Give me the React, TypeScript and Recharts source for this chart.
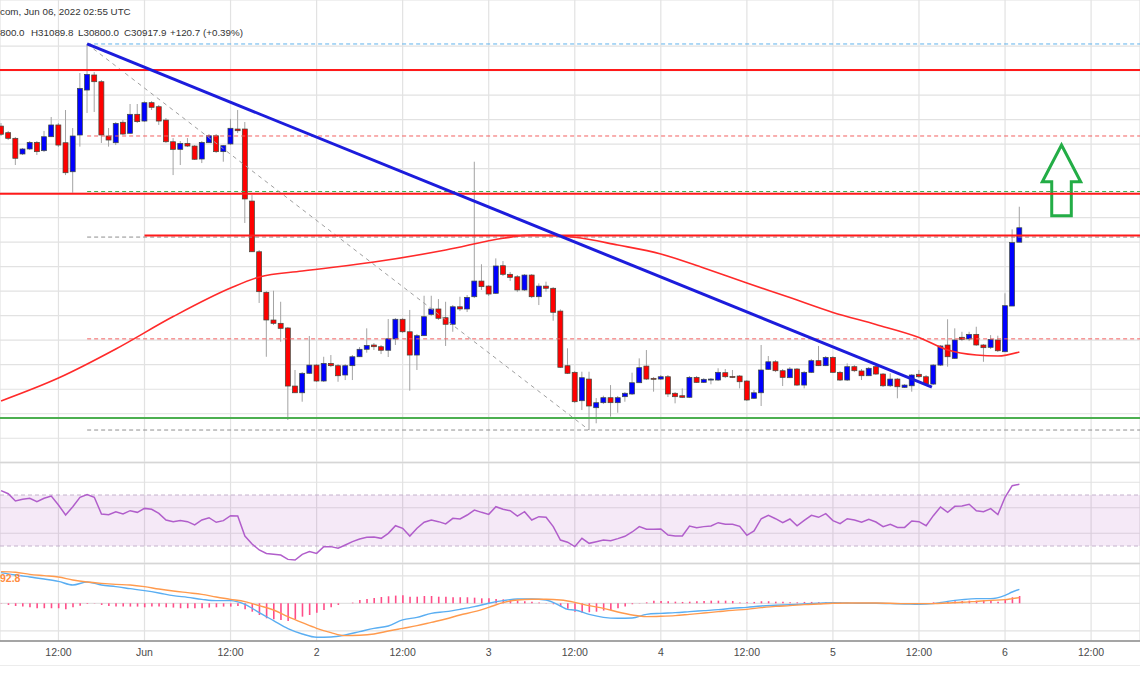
import React from "react";
import {
  ComposedChart, Bar, Line, XAxis, YAxis, CartesianGrid,
  ReferenceLine, ReferenceArea,
} from "recharts";

// hours are counted from May 31 2022 00:00 UTC, one candle per hour
const FIRST_HOUR = 4;

const OPEN = [
  31748, 31694, 31648, 31520, 31561, 31615, 31547, 31661, 31757, 31612,
  31375, 31675, 32042, 32165, 32110, 31667, 31612, 31779, 31689, 31844,
  31789, 31939, 31906, 31797, 31620, 31558, 31607, 31585, 31479, 31612,
  31669, 31539, 31602, 31724, 31724, 31136, 30722, 30391, 30165, 30138,
  30100, 29626, 29571, 29730, 29797, 29667, 29811, 29792, 29716, 29792,
  29865, 29926, 29961, 29947, 29918, 30010, 30171, 30069, 29879, 30037,
  30211, 30255, 30184, 30130, 30273, 30255, 30355, 30483, 30442, 30383,
  30608, 30538, 30518, 30410, 30532, 30355, 30442, 30424, 30238, 29792,
  29738, 29506, 29683, 29449, 29490, 29531, 29490, 29539, 29561, 29653,
  29789, 29689, 29683, 29702, 29567, 29547, 29534, 29697, 29656, 29679,
  29675, 29735, 29704, 29708, 29667, 29526, 29571, 29762, 29824, 29751,
  29694, 29765, 29634, 29738, 29833, 29792, 29860, 29738, 29675, 29784,
  29749, 29710, 29784, 29724, 29628, 29683, 29615, 29628, 29722, 29702,
  29642, 29797, 29961, 29852, 30024, 30010, 30048, 29961, 29942, 30002,
  29906, 30279, 30800.0,
];
const HIGH = [
  31773, 31708, 31659, 31569, 31626, 31626, 31708, 31822, 31773, 31879,
  31732, 32181, 32418, 32189, 32124, 31732, 31781, 31797, 31928, 31928,
  31952, 31952, 31920, 31814, 31650, 31626, 31650, 31593, 31626, 31683,
  31683, 31593, 31806, 31879, 31781, 31185, 30736, 30402, 30404, 30314,
  30108, 29757, 29740, 30034, 29806, 29865, 29879, 29806, 29806, 29879,
  29944, 30097, 29977, 29961, 30173, 30181, 30181, 30247, 30051, 30363,
  30363, 30336, 30314, 30287, 30355, 30369, 31457, 30620, 30450, 30668,
  30646, 30557, 30532, 30540, 30540, 30464, 30478, 30434, 30252, 29934,
  29749, 29743, 29743, 29528, 29547, 29634, 29545, 29577, 29735, 29852,
  29920, 29700, 29716, 29716, 29577, 29607, 29708, 29708, 29691, 29691,
  29771, 29765, 29757, 29716, 29675, 29593, 29961, 29871, 29838, 29765,
  29781, 29773, 29749, 29847, 29953, 29871, 29871, 29749, 29811, 29797,
  29765, 29781, 29797, 29732, 29730, 29691, 29642, 29724, 29757, 29716,
  29806, 29961, 30171, 30097, 30069, 30069, 30110, 29969, 30042, 30037,
  30383, 30905, 31089.8,
];
const LOW = [
  31667, 31634, 31430, 31512, 31553, 31512, 31536, 31659, 31577, 31348,
  31204, 31580, 31855, 31863, 31610, 31580, 31593, 31675, 31683, 31773,
  31781, 31879, 31757, 31610, 31348, 31430, 31577, 31471, 31446, 31610,
  31528, 31457, 31593, 31691, 30957, 30720, 30304, 29865, 30124, 29988,
  29349, 29569, 29498, 29724, 29659, 29659, 29781, 29661, 29675, 29675,
  29863, 29898, 29920, 29887, 29863, 29961, 30059, 29588, 29757, 30034,
  30198, 30165, 29953, 30069, 30238, 30230, 30344, 30410, 30361, 30377,
  30524, 30483, 30393, 30402, 30344, 30287, 30396, 30159, 29773, 29724,
  29487, 29430, 29267, 29322, 29479, 29376, 29408, 29498, 29553, 29651,
  29675, 29580, 29675, 29536, 29485, 29528, 29528, 29651, 29651, 29640,
  29667, 29691, 29691, 29607, 29504, 29520, 29463, 29757, 29740, 29626,
  29691, 29626, 29607, 29732, 29789, 29789, 29732, 29667, 29667, 29740,
  29675, 29708, 29716, 29618, 29618, 29526, 29610, 29580, 29691, 29634,
  29634, 29789, 29784, 29847, 29993, 29993, 29953, 29824, 29928, 29904,
  29904, 30279, 30800.0,
];
const CLOSE = [
  31681, 31648, 31485, 31561, 31615, 31539, 31661, 31757, 31593, 31367,
  31667, 32056, 32170, 32110, 31675, 31634, 31770, 31683, 31844, 31784,
  31939, 31901, 31789, 31620, 31558, 31607, 31585, 31477, 31615, 31669,
  31539, 31588, 31730, 31710, 31153, 30722, 30396, 30165, 30138, 30097,
  29626, 29571, 29730, 29797, 29667, 29811, 29792, 29710, 29792, 29865,
  29926, 29958, 29947, 29918, 30012, 30171, 30069, 29879, 30037, 30192,
  30255, 30179, 30130, 30273, 30255, 30350, 30483, 30437, 30377, 30606,
  30538, 30513, 30410, 30532, 30355, 30442, 30424, 30228, 29779, 29730,
  29498, 29694, 29463, 29490, 29531, 29490, 29531, 29567, 29653, 29776,
  29683, 29681, 29702, 29561, 29539, 29534, 29697, 29656, 29681, 29683,
  29738, 29702, 29700, 29661, 29512, 29571, 29757, 29824, 29751, 29697,
  29765, 29634, 29738, 29833, 29792, 29860, 29738, 29675, 29784, 29751,
  29710, 29771, 29724, 29628, 29683, 29620, 29634, 29716, 29702, 29642,
  29797, 29953, 29865, 30002, 30007, 30048, 29961, 29939, 30007, 29914,
  30282, 30797.2, 30917.9,
];

// moving average, read at a few hours
const MA_HOURS = [4, 12, 20, 28, 36, 40, 46, 56, 66, 74, 78, 84, 90, 96, 102, 108, 114, 120, 126, 132, 136, 140, 143, 146];
const MA_VALUES = [29504, 29691, 29928, 30193, 30426, 30516, 30565, 30638, 30736, 30832, 30859, 30840, 30777, 30704, 30589, 30467, 30348, 30227, 30128, 30022, 29920, 29879, 29871, 29904];

const RSI = [
  73.4, 71.0, 65.3, 66.6, 67.4, 64.8, 67.4, 69.2, 62.2, 54.3,
  60.8, 68.2, 70.3, 68.2, 55.1, 54.6, 56.9, 55.1, 57.7, 56.4,
  59.5, 58.8, 55.6, 50.4, 49.1, 49.9, 49.1, 46.5, 50.4, 52.2,
  48.6, 49.9, 53.8, 53.5, 37.8, 31.6, 26.9, 24.2, 23.5, 22.9,
  19.5, 19.0, 23.5, 25.6, 24.2, 29.5, 29.5, 28.2, 30.8, 33.4,
  35.5, 36.8, 37.1, 36.0, 39.9, 45.9, 43.9, 37.8, 43.9, 48.6,
  50.4, 49.1, 47.3, 51.7, 51.2, 54.3, 58.2, 56.4, 54.8, 60.8,
  58.8, 57.7, 53.5, 56.9, 50.4, 53.0, 52.5, 45.2, 34.7, 33.0,
  29.5, 36.0, 32.1, 33.4, 34.7, 34.2, 35.8, 37.6, 41.0, 45.2,
  43.1, 43.1, 43.3, 38.6, 37.8, 37.8, 45.7, 44.4, 45.2, 45.7,
  48.3, 47.0, 47.0, 45.4, 38.4, 41.8, 51.4, 54.1, 51.4, 48.3,
  51.2, 45.9, 50.1, 54.1, 52.5, 55.4, 49.9, 47.5, 51.4, 50.4,
  48.6, 50.9, 48.8, 45.2, 47.0, 44.6, 44.6, 49.6, 49.1, 45.9,
  53.8, 60.6, 56.4, 61.1, 61.4, 62.7, 57.7, 56.9, 59.3, 54.6,
  68.2, 77.3, 78.4,
];

const HIST = [
  -2, -12, -19, -24, -29, -36, -36, -36, -36, -44,
  -29, -17, -5, 2, -12, -19, -24, -24, -24, -24,
  -29, -24, -24, -29, -31, -36, -36, -36, -36, -31,
  -29, -24, -24, -19, -44, -61, -85, -109, -116, -121,
  -128, -116, -97, -85, -68, -48, -29, -12, 0, 5,
  24, 31, 39, 46, 51, 56, 58, 48, 48, 53,
  53, 48, 48, 44, 44, 44, 41, 36, 36, 31,
  29, 24, 19, 15, 12, 5, -2, -7, -22, -40,
  -61, -68, -65, -61, -53, -48, -36, -24, -7, 2,
  7, 19, 17, 15, 12, 10, 12, 15, 17, 19,
  19, 19, 17, 5, 7, 10, 15, 15, 12, 12,
  7, 7, 10, 10, 7, 7, 5, 5, 2, 2,
  2, 1, 0, 0, -1, -2, -1, 0, 2, 2,
  7, 10, 12, 15, 17, 19, 19, 22, 22, 12,
  29, 44, 53,
];

const MACD_HOURS = [
  4, 6, 8, 10, 12, 14, 16, 18, 20, 22, 24, 26, 28, 30, 32, 34, 36, 38, 40, 42,
  44, 46, 48, 50, 52, 54, 56, 58, 60, 62, 64, 66, 68, 70, 72, 74, 76, 78, 80, 82,
  83, 84, 86, 88, 90, 92, 94, 96, 98, 100, 102, 104, 106, 108, 110, 112, 114, 116,
  118, 120, 122, 124, 126, 128, 130, 132, 134, 136, 138, 140, 142, 144, 145, 146,
];
const MACD_LINE = [
  222.7, 205.8, 191.2, 176.7, 159.7, 133, 154.9, 133, 121, 106.4, 91.9, 74.9, 55.5, 43.4, 28.9, 19.2, 19.2, -7.5, -68, -126,
  -184, -223, -247, -245, -230, -206, -182, -165, -121, -102, -72.9, -60.8, -43.8, -24.4, 0, 19.2, 31.3, 31.3, 24, -19.6,
  -43.8, -48.7, -80.2, -102, -109.2, -106.8, -80.2, -72.9, -68, -60.8, -53.5, -46.2, -36.5, -29.3, -19.6, -14.7, -9.9, -5,
  0, 4.7, 2.3, 0, 0, -2.6, -5, -7.5, -2.6, 14.3, 26.5, 33.7, 33.7, 58, 82.2, 101.6,
];
const SIGNAL_LINE = [
  230, 225.2, 210.6, 200.9, 191.2, 169.4, 154.9, 145.2, 137.9, 133.1, 121, 104, 89.5, 77.3, 65.2, 45.8, 28.9, 11.9, -17.2, -48.7,
  -97.1, -140.7, -181.9, -213.4, -235.2, -232.8, -223.1, -201.3, -181.9, -162.5, -138.3, -114.1, -85, -60.8, -29.3, 4.7, 24, 28.9, 28.9, 24,
  16.8, 7.1, -17.2, -36.5, -63.2, -85, -97.1, -94.7, -89.8, -80.2, -70.5, -60.8, -51.1, -43.8, -31.7, -22, -17.2, -9.9,
  -5, 0, 2.3, 2.3, 2.3, 0, -2.6, -2.6, -2.6, 2.3, 7.1, 14.3, 21.6, 26.5, 33.7, 41,
];

// axis
const X_DOMAIN: [number, number] = [3.85, 162.82];
const TIME_TICKS = [12, 24, 36, 48, 60, 72, 84, 96, 108, 120, 132, 144, 156];
const TIME_LABELS = ["12:00", "Jun", "12:00", "2", "12:00", "3", "12:00", "4", "12:00", "5", "12:00", "6", "12:00"];
const PRICE_TICKS = [29200, 29400, 29600, 29800, 30000, 30200, 30400, 30600, 30800, 31000, 31200, 31400, 31600, 31800, 32000, 32200, 32400];

// drawings
const RED_LEVELS = [32206, 31195];
const RED_LEVEL_SHORT = { from: 24, price: 30855 };
const GREEN_LEVEL = 29365;
const TREND_START = { x: 16, y: 32418 };
const TREND_END = { x: 133.8, y: 29618 };
const FIB_HIGH = { x: 16, y: 32418 };
const FIB_LOW = { x: 86, y: 29267 };
const FIB_LEVELS = [32418, 31667, 31214, 30842, 30011, 29267];
const FIB_COLORS = ["#5fb2ec", "#f26060", "#3fae4f", "#8f8f8f", "#f26060", "#8f8f8f"];
const ARROW_BOX = { x1: 149.2, x2: 154.55, y1: 31016, y2: 31593 };

const rows = OPEN.map((o, i) => ({
  t: FIRST_HOUR + i,
  open: o,
  high: HIGH[i],
  low: LOW[i],
  close: CLOSE[i],
  rsi: RSI[i],
  hist: HIST[i],
}));
const maRows = MA_HOURS.map((t, i) => ({ t, ma: MA_VALUES[i] }));
const macdRows = MACD_HOURS.map((t, i) => ({ t, macd: MACD_LINE[i], signal: SIGNAL_LINE[i] }));

const FONT = "'Liberation Sans', Arial, sans-serif";
const GRID = "#e2e2e2";

const Candle = (props: any) => {
  const { x, y, width, height, payload } = props;
  if (x == null || !payload) return null;
  const { open, close, high, low } = payload;
  const top = Math.min(y, y + height);
  const h = Math.abs(height);
  const range = high - low;
  const py = (p: number) => (range === 0 ? top : top + ((high - p) / range) * h);
  const cx = x + width / 2;
  const yo = py(open);
  const yc = py(close);
  const up = close >= open;
  const bTop = Math.min(yo, yc);
  const bH = Math.max(1, Math.abs(yc - yo));
  return (
    <g>
      <line x1={cx} x2={cx} y1={top} y2={top + h} stroke="#a3a3a3" strokeWidth={1} />
      <rect x={cx - 2.5} y={bTop} width={5} height={bH} fill={up ? "#0000ff" : "#ff0000"} stroke="#3f4a3f" strokeWidth={0.7} />
    </g>
  );
};

const Arrow = (props: any) => {
  const { x, y, width: w, height: h } = props;
  if (x == null) return null;
  const pts = [
    [0.5 * w, 0], [w, 0.52 * h], [0.755 * w, 0.52 * h], [0.755 * w, h],
    [0.245 * w, h], [0.245 * w, 0.52 * h], [0, 0.52 * h],
  ].map(([a, b]) => `${x + a},${y + b}`).join(" ");
  return <polygon points={pts} fill="none" stroke="#23ad46" strokeWidth={3} strokeLinejoin="miter" />;
};

const HEAD = { position: "absolute" as const, fontSize: 9.8, color: "#333", whiteSpace: "nowrap" as const };

export default function App() {
  return (
    <div style={{ position: "absolute", left: 0, top: 0, width: 1140, height: 694, background: "#fff", overflow: "hidden", fontFamily: FONT }}>
      {/* price pane */}
      <div style={{ position: "absolute", left: 0, top: 0 }}>
        <ComposedChart width={1140} height={462} data={rows} margin={{ top: 0, right: 0, bottom: 0, left: 0 }}>
          <XAxis dataKey="t" type="number" domain={X_DOMAIN} ticks={TIME_TICKS} hide allowDataOverflow />
          <YAxis domain={[29006, 32777]} ticks={PRICE_TICKS} hide allowDataOverflow />
          <CartesianGrid stroke={GRID} strokeWidth={1.2} />
          {FIB_LEVELS.map((p, i) => (
            <ReferenceLine key={"fib" + i} segment={[{ x: FIB_HIGH.x, y: p }, { x: X_DOMAIN[1], y: p }]} stroke={FIB_COLORS[i]} strokeDasharray="4 3" strokeWidth={1} />
          ))}
          <ReferenceLine segment={[FIB_HIGH, FIB_LOW]} stroke="#a0a0a0" strokeDasharray="4 4" strokeWidth={1} />
          {RED_LEVELS.map((p) => (
            <ReferenceLine key={"r" + p} y={p} stroke="#ff1a1a" strokeWidth={2} />
          ))}
          <ReferenceLine segment={[{ x: RED_LEVEL_SHORT.from, y: RED_LEVEL_SHORT.price }, { x: X_DOMAIN[1], y: RED_LEVEL_SHORT.price }]} stroke="#ff1a1a" strokeWidth={2} />
          <ReferenceLine y={GREEN_LEVEL} stroke="#4caf50" strokeWidth={2} />
          <Line data={maRows} dataKey="ma" stroke="#ff2a2a" strokeWidth={1.6} dot={false} activeDot={false} type="monotone" isAnimationActive={false} />
          <Bar dataKey={(d: any) => [d.low, d.high]} barSize={5} shape={<Candle />} isAnimationActive={false} />
          <ReferenceLine segment={[TREND_START, TREND_END]} stroke="#1c1cdc" strokeWidth={3} />
          <ReferenceArea x1={ARROW_BOX.x1} x2={ARROW_BOX.x2} y1={ARROW_BOX.y1} y2={ARROW_BOX.y2} shape={<Arrow />} />
        </ComposedChart>
      </div>
      <div style={{ position: "absolute", left: 0, top: 462, width: 1140, height: 1, background: "#d6d6d6" }} />

      {/* RSI pane */}
      <div style={{ position: "absolute", left: 0, top: 463 }}>
        <ComposedChart width={1140} height={100} data={rows} margin={{ top: 0, right: 0, bottom: 0, left: 0 }}>
          <XAxis dataKey="t" type="number" domain={X_DOMAIN} ticks={TIME_TICKS} hide allowDataOverflow />
          <YAxis domain={[16.67, 95.1]} ticks={[20, 40, 60, 80]} hide allowDataOverflow />
          <CartesianGrid stroke={GRID} strokeWidth={1.2} />
          <ReferenceArea y1={30} y2={70} fill="#9c27b0" fillOpacity={0.1} stroke="none" />
          <ReferenceLine y={70} stroke="#c4b2cc" strokeDasharray="4 3" />
          <ReferenceLine y={30} stroke="#c4b2cc" strokeDasharray="4 3" />
          <Line dataKey="rsi" stroke="#b15ecb" strokeWidth={1.5} dot={false} activeDot={false} type="linear" isAnimationActive={false} />
        </ComposedChart>
      </div>
      <div style={{ position: "absolute", left: 0, top: 563, width: 1140, height: 1, background: "#d6d6d6" }} />

      {/* MACD pane + time axis */}
      <div style={{ position: "absolute", left: 0, top: 564 }}>
        <ComposedChart width={1140} height={130} data={rows} margin={{ top: 0, right: 0, bottom: 0, left: 0 }}>
          <XAxis
            dataKey="t" type="number" domain={X_DOMAIN} ticks={TIME_TICKS} interval={0} height={53}
            tickFormatter={(v: number) => TIME_LABELS[TIME_TICKS.indexOf(v)]}
            axisLine={{ stroke: "#8c8c8c", strokeWidth: 1.5 }} tickLine={false}
            tick={{ fontSize: 10.5, fill: "#4a4a4a", fontFamily: FONT }} allowDataOverflow
          />
          <YAxis domain={[-274.1, 285.7]} ticks={[-200, 0, 200]} hide allowDataOverflow />
          <CartesianGrid stroke={GRID} strokeWidth={1.2} />
          <Bar dataKey="hist" barSize={1.6} fill="#ff4d88" isAnimationActive={false} />
          <Line data={macdRows} dataKey="macd" stroke="#5aaef2" strokeWidth={1.4} dot={false} activeDot={false} type="monotone" isAnimationActive={false} />
          <Line data={macdRows} dataKey="signal" stroke="#ff9a4d" strokeWidth={1.4} dot={false} activeDot={false} type="monotone" isAnimationActive={false} />
        </ComposedChart>
      </div>
      <div style={{ position: "absolute", left: 0, top: 665, width: 1140, height: 1, background: "#ececec" }} />

      {/* header texts */}
      <div style={{ ...HEAD, left: 0, top: 6 }}>com, Jun 06, 2022 02:55 UTC</div>
      <span style={{ ...HEAD, left: 0, top: 27 }}>800.0</span>
      <span style={{ ...HEAD, left: 31, top: 27 }}>H31089.8</span>
      <span style={{ ...HEAD, left: 78, top: 27 }}>L30800.0</span>
      <span style={{ ...HEAD, left: 124, top: 27 }}>C30917.9</span>
      <span style={{ ...HEAD, left: 170, top: 27 }}>+120.7 (+0.39%)</span>
      <div style={{ position: "absolute", left: 0, top: 572, fontSize: 10.5, fontWeight: 600, color: "#ff8c40", whiteSpace: "nowrap" }}>
        92.8
      </div>
    </div>
  );
}
